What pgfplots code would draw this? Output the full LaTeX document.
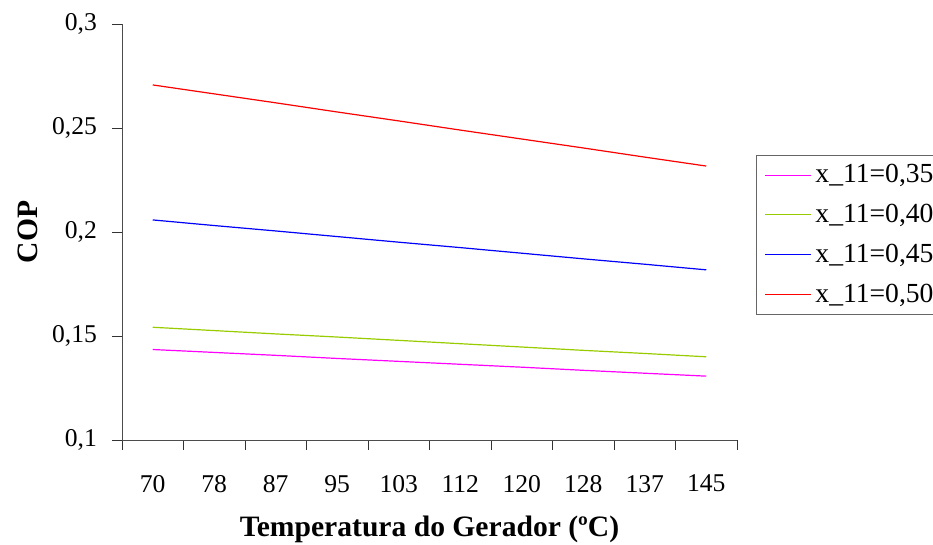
\documentclass[border=0pt]{standalone}
\usepackage{pgfplots}
\pgfplotsset{compat=1.18}
\usepackage{fontspec}
\setmainfont{Liberation Serif}
\definecolor{cred}{RGB}{255,0,0}
\definecolor{cblue}{RGB}{0,0,255}
\definecolor{cgreen}{RGB}{153,204,0}
\definecolor{cmag}{RGB}{255,0,255}
\begin{document}
\begin{tikzpicture}
\begin{axis}[
  width=307.5pt, height=208pt, scale only axis,
  xmin=-0.5, xmax=9.5, ymin=0.1, ymax=0.3,
  axis lines=left, axis line style={-, draw=black!70},
  xtick={0,...,9},
  xticklabels={70,78,87,95,103,112,120,128,137,145},
  major x tick style={draw=none},
  minor xtick={-0.5,0.5,...,9.5},
  minor tick length=5pt, major tick length=5pt,
  tick align=outside,
  ytick={0.1,0.15,0.2,0.25,0.3},
  yticklabels={{0,1},{0,15},{0,2},{0,25},{0,3}},
  tick style={draw=black!80},
  ticklabel style={font=\fontsize{12.8}{14}\selectfont},
  x tick label style={yshift=-9pt},
  y tick label style={xshift=-4pt},
  xlabel={Temperatura do Gerador (ºC)},
  ylabel={COP},
  label style={font=\fontsize{14.8}{16}\selectfont\bfseries},
  xlabel style={at={(axis description cs:0.5,-0.215)}, anchor=center},
  ylabel style={at={(axis description cs:-0.153,0.5)}, anchor=center},
  legend style={at={(rel axis cs:1.031,0.692)}, anchor=north west,
    draw=black!60, font=\fontsize{13.8}{15}\selectfont,
    row sep=5.2pt, inner xsep=4pt, inner ysep=2.5pt,
    yshift=-1.5pt},
  legend cell align=left,
  legend image code/.code={\draw[#1, line width=0.5pt] (0cm,0cm) -- (23pt,0cm);},
  every axis plot/.append style={line width=0.6pt},
  clip=false,
]
\addplot[cmag] coordinates {(0,0.1435)(1,0.1421)(2,0.1407)(3,0.1392)(4,0.1378)(5,0.1364)(6,0.1350)(7,0.1335)(8,0.1321)(9,0.1307)};
\addlegendentry{x\_11=0,35\hspace{10pt}}
\addplot[cgreen] coordinates {(0,0.1542)(1,0.1526)(2,0.1510)(3,0.1495)(4,0.1479)(5,0.1463)(6,0.1447)(7,0.1431)(8,0.1416)(9,0.1400)};
\addlegendentry{x\_11=0,40}
\addplot[cblue] coordinates {(0,0.2058)(1,0.2031)(2,0.2005)(3,0.1978)(4,0.1951)(5,0.1925)(6,0.1898)(7,0.1871)(8,0.1845)(9,0.1818)};
\addlegendentry{x\_11=0,45}
\addplot[cred] coordinates {(0,0.2707)(1,0.2664)(2,0.2621)(3,0.2577)(4,0.2534)(5,0.2490)(6,0.2447)(7,0.2404)(8,0.2360)(9,0.2317)};
\addlegendentry{x\_11=0,50}
\coordinate (O) at (rel axis cs:0,0);
\end{axis}
\pgfresetboundingbox
\path[use as bounding box] ([shift={(-61pt,-52.5pt)}]O) rectangle ([shift={(405.5pt,220pt)}]O);
\end{tikzpicture}
\end{document}
